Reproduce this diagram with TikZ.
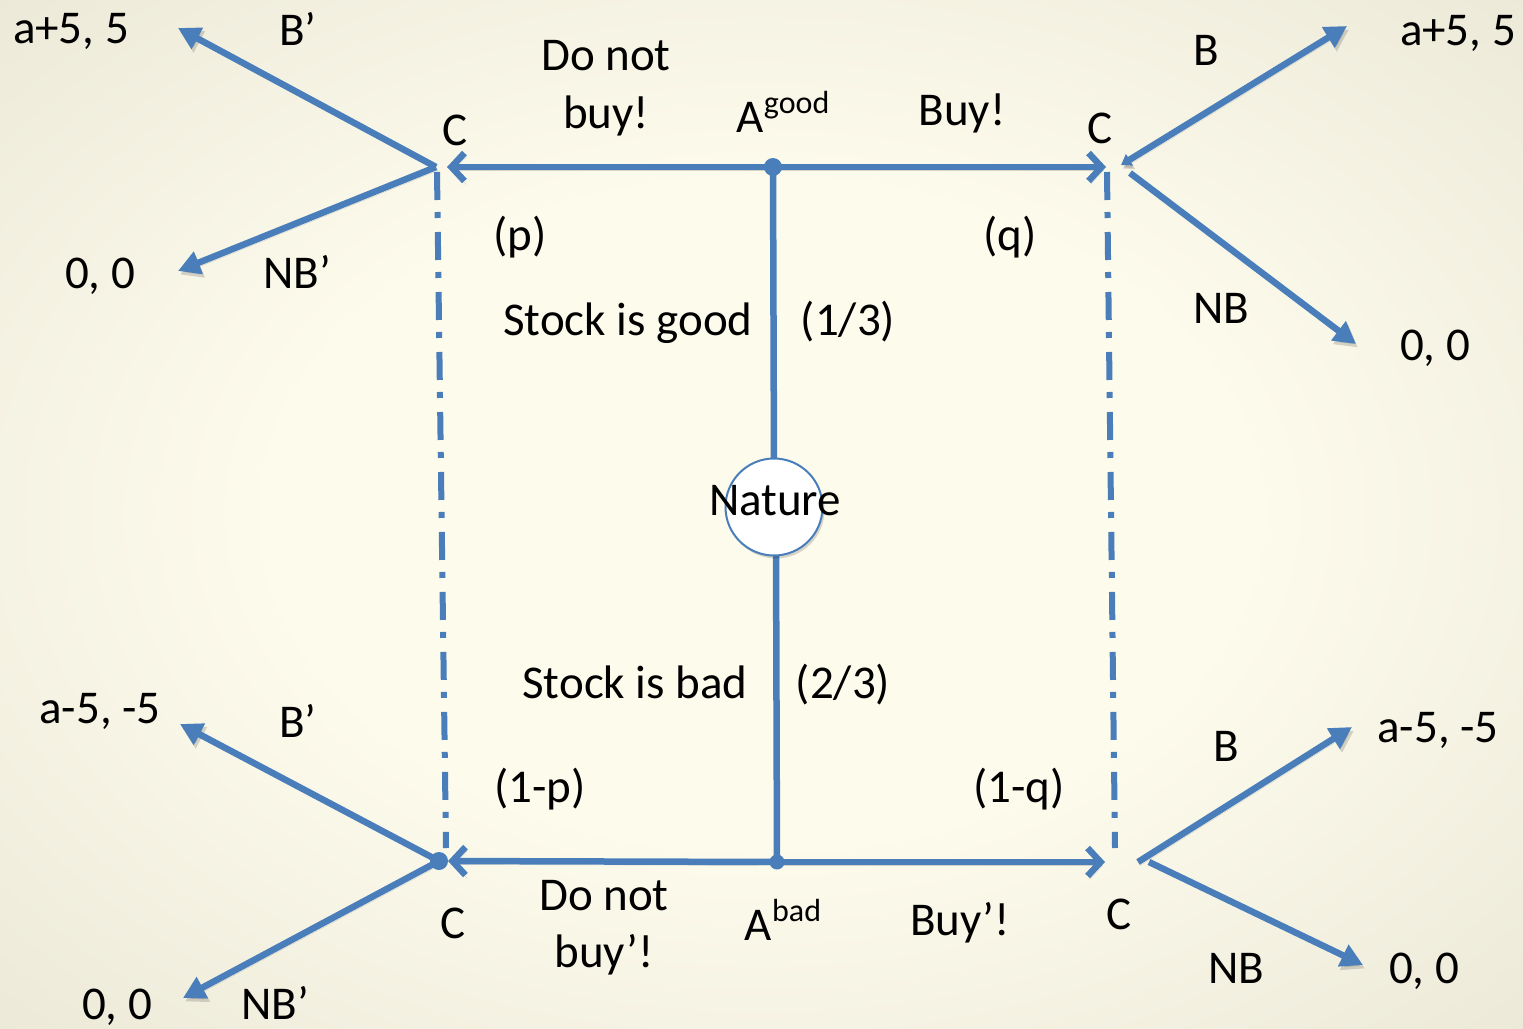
\documentclass[tikz,border=0pt]{standalone}
\usepackage{fontspec}
\setmainfont{Carlito}
\usetikzlibrary{arrows.meta}

\definecolor{edge}{RGB}{74,126,187}
\definecolor{paperC}{RGB}{253,251,236}
\definecolor{paperM}{RGB}{232,229,212}
\definecolor{paperD}{RGB}{208,205,189}
\definecolor{paperE}{RGB}{190,187,170}

% soft paper background, light in the middle
\pgfdeclareradialshading{paper}{\pgfpoint{0bp}{0bp}}{%
  color(0bp)=(paperC); color(16bp)=(paperC); color(40bp)=(paperM); color(55bp)=(paperD); color(71bp)=(paperE)}

\newcommand{\hiword}[1]{\raisebox{0.40em}{\fontsize{32}{34}\selectfont #1}}

\begin{document}
\begin{tikzpicture}[x=1pt,y=-1pt,
  lbl/.style={font=\fontsize{47}{56}\selectfont, inner sep=0pt, anchor=base},
  shadowed/.style={preaction={draw=black!70, opacity=0.22, transform canvas={shift={(2pt,-3.5pt)}}}},
  plain/.style={draw=edge, line width=6.5pt, shadowed},
  branch/.style={plain, -{Triangle[length=22pt,width=23pt]}},
  move/.style={plain, -{Straight Barb[length=13pt,width=28pt]}},
  info/.style={draw=edge, line width=6pt, dash pattern=on 28pt off 12pt on 6pt off 14pt},
  dot/.style={circle, fill=edge, inner sep=0pt, minimum size=18pt}]

\shade[shading=paper] (0,0) rectangle (1523,1028);
\useasboundingbox (0,0) rectangle (1523,1028);

% decision points
\coordinate (Ag) at (773,167);
\coordinate (Ab) at (777,862);
\coordinate (CgL) at (436,167);
\coordinate (CgR) at (1108,167);
\coordinate (CbL) at (439,861);
\coordinate (CbR) at (1108,862);

% information sets
\coordinate (ILt) at (437,172);
\coordinate (ILb) at (446,848);
\coordinate (IRt) at (1107,172);
\coordinate (IRb) at (1115,848);
\draw[info] (ILt) -- (ILb);
\draw[info] (IRt) -- (IRb);

% branch starts / payoff tips
\coordinate (BgRs) at (1121,165);
\coordinate (NBgRs) at (1130,173);
\coordinate (BbRs) at (1138,862);
\coordinate (NBbRs) at (1149,862);
\coordinate (tBgL) at (178,28);
\coordinate (tNBgL) at (178,271);
\coordinate (tBgR) at (1347,26);
\coordinate (tNBgR) at (1356,344);
\coordinate (tBbL) at (180,724);
\coordinate (tNBbL) at (183,998);
\coordinate (tBbR) at (1352,727);
\coordinate (tNBbR) at (1363,965);

% Nature
\draw[plain] (Ag) -- (774,470);
\draw[plain] (776,545) -- (Ab);
\node[circle, draw=edge, fill=white, line width=2pt, minimum size=97pt, inner sep=0pt,
      preaction={fill=black, opacity=0.15, transform canvas={shift={(2pt,-3pt)}}}] (nat) at (774,507) {};

% agent's moves
\draw[move, shorten >=11pt] (Ag) -- (CgL);
\draw[move, shorten >=2pt] (Ag) -- (CgR);
\draw[move, shorten >=9pt] (Ab) -- (CbL);
\draw[move, shorten >=3pt] (Ab) -- (CbR);

% buyer's moves
\draw[branch] (CgL) -- (tBgL);
\draw[branch] (CgL) -- (tNBgL);
\draw[branch, {Triangle[length=10pt,width=13pt]}-{Triangle[length=22pt,width=23pt]}] (BgRs) -- (tBgR);
\draw[branch] (NBgRs) -- (tNBgR);
\draw[branch] (CbL) -- (tBbL);
\draw[branch] (CbL) -- (tNBbL);
\draw[branch] (BbRs) -- (tBbR);
\draw[branch] (NBbRs) -- (tNBbR);

\node[dot] (dAg) at (Ag) {};
\node[dot, minimum size=15pt] (dAb) at (Ab) {};
\node[dot] (dCbL) at (CbL) {};

% labels
\node[lbl] (nature) at (775,515) {Nature};

\node[lbl] (pTL) at (71,43) {a+5, 5};
\node[lbl] (bTL) at (298,45) {B’};
\node[lbl] (dn1) at (606,70) {Do not};
\node[lbl] (dn2) at (606,128) {buy!};
\node[lbl] (agood) at (783,132) {A\hiword{good}};
\node[lbl] (buy) at (962,125) {Buy!};
\node[lbl] (cTL) at (455,145) {C};
\node[lbl] (cTR) at (1100,143) {C};
\node[lbl] (bTR) at (1206,65) {B};
\node[lbl] (pTR) at (1458,45) {a+5, 5};

\node[lbl] (p) at (520,250) {(p)};
\node[lbl] (q) at (1010,250) {(q)};
\node[lbl] (zTL) at (100,288) {0, 0};
\node[lbl] (nbTL) at (297,288) {NB’};
\node[lbl] (nbTR) at (1221,323) {NB};
\node[lbl] (zTR) at (1435,360) {0, 0};

\node[lbl] (sg) at (628,335) {Stock is good};
\node[lbl] (third) at (848,335) {(1/3)};
\node[lbl] (sb) at (635,698) {Stock is bad};
\node[lbl] (twoth) at (843,698) {(2/3)};

\node[lbl] (pBL) at (100,723) {a-5, -5};
\node[lbl] (bBL) at (298,737) {B’};
\node[lbl] (bBR) at (1226,761) {B};
\node[lbl] (pBR) at (1438,742) {a-5, -5};
\node[lbl] (omp) at (540,802) {(1-p)};
\node[lbl] (omq) at (1019,802) {(1-q)};

\node[lbl] (cBL) at (453,938) {C};
\node[lbl] (dn3) at (604,910) {Do not};
\node[lbl] (dn4) at (604,967) {buy’!};
\node[lbl] (abad) at (783,940) {A\hiword{bad}};
\node[lbl] (buy2) at (960,935) {Buy’!};
\node[lbl] (cBR) at (1119,929) {C};
\node[lbl] (nbBR) at (1236,983) {NB};
\node[lbl] (zBR) at (1424,983) {0, 0};
\node[lbl] (zBL) at (117,1019) {0, 0};
\node[lbl] (nbBL) at (275,1019) {NB’};
\end{tikzpicture}
\end{document}
